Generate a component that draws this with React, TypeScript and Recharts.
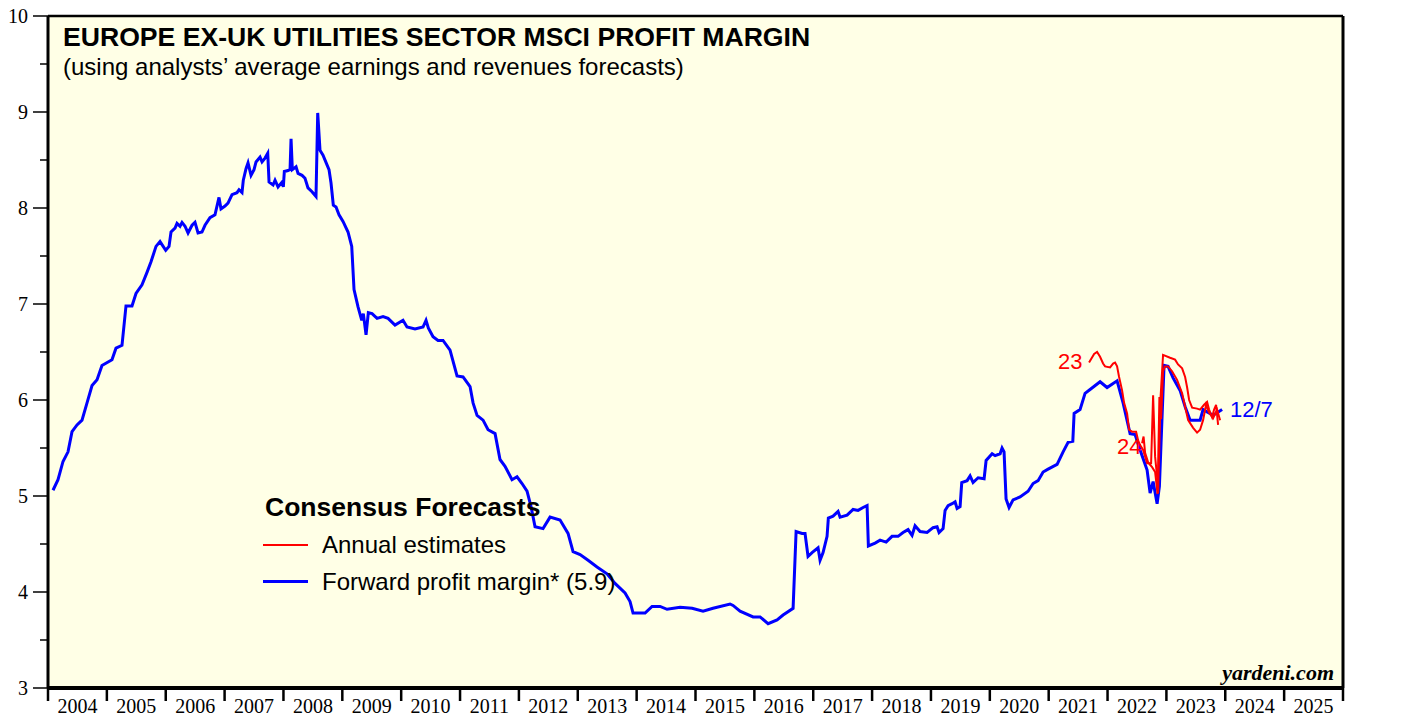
import { Line, LineChart, ReferenceArea, ReferenceLine, XAxis, YAxis } from "recharts";

// forward profit margin, [year, %]
const forwardMargin: [number, number][] = [
  [2004.085, 5.06], [2004.17, 5.17], [2004.255, 5.36], [2004.34, 5.46], [2004.408, 5.67], [2004.493, 5.74],
  [2004.578, 5.79], [2004.663, 5.97], [2004.748, 6.15], [2004.833, 6.21], [2004.917, 6.36], [2005.087, 6.42],
  [2005.155, 6.54], [2005.257, 6.57], [2005.325, 6.98], [2005.427, 6.98], [2005.495, 7.11], [2005.597, 7.2],
  [2005.682, 7.33], [2005.75, 7.44], [2005.835, 7.6], [2005.903, 7.65], [2006.0, 7.56], [2006.056, 7.6],
  [2006.09, 7.75], [2006.158, 7.79], [2006.192, 7.84], [2006.243, 7.81], [2006.277, 7.85], [2006.328, 7.81],
  [2006.379, 7.74], [2006.447, 7.82], [2006.497, 7.85], [2006.549, 7.74], [2006.616, 7.75], [2006.667, 7.82],
  [2006.752, 7.9], [2006.837, 7.93], [2006.905, 8.11], [2006.939, 7.99], [2007.007, 8.02], [2007.058, 8.05],
  [2007.126, 8.14], [2007.211, 8.16], [2007.245, 8.19], [2007.296, 8.16], [2007.318, 8.29], [2007.364, 8.41],
  [2007.398, 8.47], [2007.449, 8.34], [2007.5, 8.4], [2007.534, 8.48], [2007.602, 8.53], [2007.636, 8.48],
  [2007.687, 8.52], [2007.733, 8.57], [2007.755, 8.27], [2007.823, 8.24], [2007.857, 8.29], [2007.908, 8.22],
  [2007.976, 8.27], [2007.998, 8.22], [2008.015, 8.38], [2008.078, 8.39], [2008.112, 8.4], [2008.129, 8.72],
  [2008.151, 8.4], [2008.214, 8.43], [2008.248, 8.36], [2008.316, 8.34], [2008.366, 8.31], [2008.417, 8.21],
  [2008.485, 8.17], [2008.553, 8.12], [2008.582, 8.99], [2008.621, 8.6], [2008.672, 8.55], [2008.74, 8.45],
  [2008.774, 8.4], [2008.808, 8.26], [2008.847, 8.03], [2008.893, 8.01], [2008.944, 7.93], [2009.012, 7.86],
  [2009.097, 7.75], [2009.16, 7.6], [2009.199, 7.15], [2009.267, 6.97], [2009.33, 6.83], [2009.357, 6.9],
  [2009.403, 6.68], [2009.442, 6.91], [2009.505, 6.9], [2009.59, 6.85], [2009.692, 6.87], [2009.777, 6.85],
  [2009.895, 6.78], [2010.031, 6.83], [2010.099, 6.76], [2010.235, 6.74], [2010.371, 6.76], [2010.422, 6.83],
  [2010.461, 6.75], [2010.541, 6.66], [2010.626, 6.62], [2010.711, 6.62], [2010.83, 6.52], [2010.949, 6.25],
  [2011.051, 6.24], [2011.17, 6.14], [2011.221, 5.97], [2011.289, 5.84], [2011.391, 5.79], [2011.476, 5.69],
  [2011.595, 5.65], [2011.679, 5.38], [2011.764, 5.31], [2011.883, 5.17], [2011.968, 5.2], [2012.053, 5.13],
  [2012.138, 5.05], [2012.206, 4.89], [2012.274, 4.68], [2012.41, 4.66], [2012.529, 4.78], [2012.699, 4.75],
  [2012.835, 4.61], [2012.92, 4.42], [2013.039, 4.39], [2013.175, 4.33], [2013.327, 4.26], [2013.497, 4.19],
  [2013.633, 4.09], [2013.803, 3.99], [2013.888, 3.9], [2013.939, 3.78], [2014.143, 3.78], [2014.262, 3.85],
  [2014.398, 3.85], [2014.517, 3.82], [2014.738, 3.84], [2014.942, 3.83], [2015.128, 3.8], [2015.298, 3.83],
  [2015.587, 3.875], [2015.638, 3.86], [2015.757, 3.8], [2015.978, 3.74], [2016.097, 3.74], [2016.233, 3.67],
  [2016.386, 3.71], [2016.488, 3.76], [2016.658, 3.83], [2016.709, 4.63], [2016.81, 4.61], [2016.861, 4.61],
  [2016.912, 4.37], [2016.98, 4.41], [2017.082, 4.46], [2017.116, 4.33], [2017.167, 4.41], [2017.235, 4.58],
  [2017.257, 4.77], [2017.337, 4.79], [2017.422, 4.84], [2017.456, 4.78], [2017.575, 4.8], [2017.677, 4.86],
  [2017.762, 4.85], [2017.847, 4.88], [2017.915, 4.9], [2017.937, 4.48], [2018.051, 4.51], [2018.136, 4.54],
  [2018.238, 4.52], [2018.339, 4.58], [2018.441, 4.58], [2018.526, 4.62], [2018.611, 4.65], [2018.679, 4.59],
  [2018.73, 4.69], [2018.815, 4.63], [2018.934, 4.62], [2019.036, 4.67], [2019.104, 4.68], [2019.138, 4.62],
  [2019.206, 4.66], [2019.24, 4.85], [2019.291, 4.9], [2019.359, 4.92], [2019.41, 4.94], [2019.444, 4.87],
  [2019.495, 4.89], [2019.523, 5.14], [2019.614, 5.16], [2019.665, 5.21], [2019.716, 5.14], [2019.801, 5.19],
  [2019.903, 5.18], [2019.937, 5.37], [2020.039, 5.44], [2020.09, 5.42], [2020.175, 5.44], [2020.208, 5.5],
  [2020.242, 5.46], [2020.276, 4.97], [2020.327, 4.88], [2020.395, 4.96], [2020.514, 4.99], [2020.65, 5.05],
  [2020.735, 5.13], [2020.82, 5.16], [2020.905, 5.25], [2020.99, 5.28], [2021.143, 5.33], [2021.245, 5.46],
  [2021.33, 5.56], [2021.41, 5.57], [2021.432, 5.86], [2021.533, 5.9], [2021.618, 6.07], [2021.703, 6.11],
  [2021.873, 6.19], [2021.992, 6.13], [2022.162, 6.2], [2022.264, 5.97], [2022.383, 5.65], [2022.468, 5.64],
  [2022.553, 5.48], [2022.672, 5.27], [2022.723, 5.03], [2022.774, 5.15], [2022.842, 4.92], [2022.881, 5.1],
  [2022.922, 5.76], [2022.96, 6.36], [2023.028, 6.35], [2023.113, 6.23], [2023.232, 6.1], [2023.318, 5.93],
  [2023.403, 5.79], [2023.572, 5.79], [2023.623, 5.9], [2023.793, 5.84], [2023.946, 5.9],
];

// annual estimates for 2023
const annual23: [number, number][] = [
  [2021.686, 6.39], [2021.772, 6.48], [2021.822, 6.5], [2021.873, 6.45], [2021.924, 6.38], [2021.958, 6.35],
  [2022.043, 6.34], [2022.094, 6.38], [2022.128, 6.39], [2022.162, 6.35], [2022.196, 6.24], [2022.247, 6.1],
  [2022.281, 5.97], [2022.332, 5.86], [2022.366, 5.69], [2022.417, 5.67], [2022.485, 5.67], [2022.519, 5.58],
  [2022.553, 5.53], [2022.604, 5.48], [2022.672, 5.34], [2022.74, 5.34], [2022.774, 6.05], [2022.808, 5.41],
  [2022.842, 5.2], [2022.859, 5.03], [2022.901, 6.03], [2022.943, 6.47], [2023.062, 6.44], [2023.147, 6.42],
  [2023.198, 6.37], [2023.267, 6.33], [2023.318, 6.24], [2023.352, 6.13], [2023.386, 6.0], [2023.437, 5.92],
  [2023.521, 5.91], [2023.572, 5.9], [2023.64, 5.95], [2023.691, 5.98], [2023.725, 5.9], [2023.776, 5.82],
  [2023.81, 5.9], [2023.844, 5.95], [2023.878, 5.74],
];

// annual estimates for 2024
const annual24: [number, number][] = [
  [2022.587, 5.55], [2022.612, 5.62], [2022.638, 5.45], [2022.689, 5.35], [2022.757, 5.3], [2022.808, 5.25],
  [2022.85, 5.02], [2022.881, 6.03], [2022.91, 5.8], [2022.943, 6.3], [2022.977, 6.35], [2023.028, 6.35],
  [2023.096, 6.3], [2023.181, 6.21], [2023.267, 6.07], [2023.318, 5.93], [2023.369, 5.79], [2023.454, 5.71],
  [2023.521, 5.66], [2023.572, 5.69], [2023.623, 5.79], [2023.674, 5.95], [2023.725, 5.87], [2023.793, 5.81],
  [2023.861, 5.9], [2023.912, 5.79],
];

const yearTicks = [
  2004, 2005, 2006, 2007, 2008, 2009, 2010, 2011, 2012, 2013, 2014, 2015,
  2016, 2017, 2018, 2019, 2020, 2021, 2022, 2023, 2024, 2025, 2026,
];
const valueTicks = [3, 3.5, 4, 4.5, 5, 5.5, 6, 6.5, 7, 7.5, 8, 8.5, 9, 9.5, 10];

const toRows = (pts: [number, number][]) => pts.map(([t, v]) => ({ t, v }));

const SERIF = "'Liberation Serif', 'Times New Roman', serif";
const SANS = "'Liberation Sans', Arial, sans-serif";
const BG = "#FFFFE6";

const W = 1403;
const H = 717;
const LEFT_W = 48;
const RIGHT_W = 60;
// half of one year's width along the x axis, for centring the year labels
const HALF_YEAR = (W - LEFT_W - RIGHT_W) / (yearTicks.length - 1) / 2;

function YearTick(props: any) {
  const { x, y, payload } = props;
  const last = payload.value === yearTicks[yearTicks.length - 1];
  return (
    <g>
      <line x1={x} x2={x} y1={y} y2={y + 13} stroke="#000" strokeWidth={2.5} />
      {!last && (
        <text
          x={x + HALF_YEAR}
          y={y + 18}
          textAnchor="middle"
          dominantBaseline="central"
          fontFamily={SERIF}
          fontSize={20}
          fill="#000"
        >
          {payload.value}
        </text>
      )}
    </g>
  );
}

function ValueTick(props: any) {
  const { x, y, payload, side } = props;
  const major = Number.isInteger(payload.value);
  const dir = side === "left" ? -1 : 1;
  const len = major ? 15 : 8;
  return (
    <g>
      <line x1={x} x2={x + dir * len} y1={y} y2={y} stroke="#000" strokeWidth={1.5} />
      {major && (
        <text
          x={x + dir * 20}
          y={y}
          textAnchor={side === "left" ? "end" : "start"}
          dominantBaseline="central"
          fontFamily={SERIF}
          fontSize={20}
          fill="#000"
        >
          {payload.value}
        </text>
      )}
    </g>
  );
}

export default function App() {
  return (
    <div style={{ position: "absolute", left: 0, top: 0, width: W, height: H, background: "#fff" }}>
      <LineChart width={W} height={H} margin={{ top: 16, right: 0, bottom: 0, left: 0 }}>
        <XAxis
          xAxisId="yr"
          type="number"
          dataKey="t"
          domain={[2004, 2026]}
          ticks={yearTicks}
          height={29}
          interval={0}
          tickLine={false}
          tickSize={0}
          tickMargin={0}
          tick={<YearTick />}
          axisLine={{ stroke: "#000", strokeWidth: 4 }}
        />
        <YAxis
          yAxisId="l"
          type="number"
          domain={[3, 10]}
          ticks={valueTicks}
          interval={0}
          width={LEFT_W}
          tickLine={false}
          tickSize={0}
          tickMargin={0}
          axisLine={{ stroke: "#000", strokeWidth: 3 }}
          tick={<ValueTick side="left" />}
        />
        <YAxis
          yAxisId="r"
          orientation="right"
          type="number"
          domain={[3, 10]}
          ticks={valueTicks}
          interval={0}
          width={RIGHT_W}
          tickLine={false}
          tickSize={0}
          tickMargin={0}
          axisLine={{ stroke: "#000", strokeWidth: 3 }}
          tick={<ValueTick side="right" />}
        />
        <ReferenceArea
          xAxisId="yr"
          yAxisId="l"
          x1={2004}
          x2={2026}
          y1={3}
          y2={10}
          fill={BG}
          fillOpacity={1}
          stroke="none"
        />
        <ReferenceLine xAxisId="yr" yAxisId="l" y={10} stroke="#000" strokeWidth={2.5} />
        <Line
          xAxisId="yr"
          yAxisId="l"
          data={toRows(forwardMargin)}
          dataKey="v"
          type="linear"
          stroke="#0000FF"
          strokeWidth={3}
          dot={false}
          isAnimationActive={false}
        />
        <Line
          xAxisId="yr"
          yAxisId="l"
          data={toRows(annual23)}
          dataKey="v"
          type="linear"
          stroke="#FF0000"
          strokeWidth={2}
          dot={false}
          isAnimationActive={false}
        />
        <Line
          xAxisId="yr"
          yAxisId="l"
          data={toRows(annual24)}
          dataKey="v"
          type="linear"
          stroke="#FF0000"
          strokeWidth={2}
          dot={false}
          isAnimationActive={false}
        />
      </LineChart>

      <div style={{ position: "absolute", left: 63, top: 24, fontFamily: SANS, fontWeight: 700, fontSize: 26.6, lineHeight: 1, whiteSpace: "nowrap" }}>
        EUROPE EX-UK UTILITIES SECTOR MSCI PROFIT MARGIN
      </div>
      <div style={{ position: "absolute", left: 63, top: 55, fontFamily: SANS, fontSize: 24, lineHeight: 1, whiteSpace: "nowrap" }}>
        (using analysts’ average earnings and revenues forecasts)
      </div>

      <div style={{ position: "absolute", left: 265, top: 494, fontFamily: SANS, fontWeight: 700, fontSize: 26.5, lineHeight: 1, whiteSpace: "nowrap" }}>
        Consensus Forecasts
      </div>
      <div style={{ position: "absolute", left: 263, top: 544, width: 45, height: 2, background: "#FF0000" }} />
      <div style={{ position: "absolute", left: 322, top: 533, fontFamily: SANS, fontSize: 24, lineHeight: 1, whiteSpace: "nowrap" }}>
        Annual estimates
      </div>
      <div style={{ position: "absolute", left: 263, top: 580, width: 45, height: 3, background: "#0000FF" }} />
      <div style={{ position: "absolute", left: 322, top: 570, fontFamily: SANS, fontSize: 24, lineHeight: 1, whiteSpace: "nowrap" }}>
        Forward profit margin* (5.9)
      </div>

      <div style={{ position: "absolute", left: 1058, top: 351, fontFamily: SANS, fontSize: 22, lineHeight: 1, color: "#FF0000" }}>23</div>
      <div style={{ position: "absolute", left: 1117, top: 436, fontFamily: SANS, fontSize: 22, lineHeight: 1, color: "#FF0000" }}>24</div>
      <div style={{ position: "absolute", left: 1230, top: 399, fontFamily: SANS, fontSize: 22, lineHeight: 1, color: "#0000FF" }}>12/7</div>

      <div style={{ position: "absolute", right: W - 1334, top: 662, fontFamily: SERIF, fontStyle: "italic", fontWeight: 700, fontSize: 22, lineHeight: 1, whiteSpace: "nowrap" }}>
        yardeni.com
      </div>
    </div>
  );
}
